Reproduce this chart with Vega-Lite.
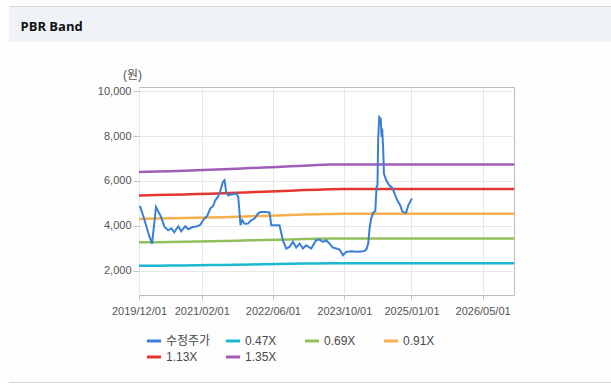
{
  "$schema": "https://vega.github.io/schema/vega-lite/v6.json",
  "background": "#fdfdfd",
  "padding": {"left": 9, "top": 6, "right": 0, "bottom": 0},
  "config": {
    "font": "Liberation Sans, Noto Sans CJK KR, sans-serif",
    "view": {"stroke": null},
    "concat": {"spacing": 0}
  },
  "datasets": {
    "price": [
      {"d":"2019-12-02","s":"수정주가","v":4850},
      {"d":"2019-12-10","s":"수정주가","v":4845},
      {"d":"2020-01-06","s":"수정주가","v":4300},
      {"d":"2020-02-02","s":"수정주가","v":3700},
      {"d":"2020-02-28","s":"수정주가","v":3218},
      {"d":"2020-03-26","s":"수정주가","v":4845},
      {"d":"2020-04-10","s":"수정주가","v":4650},
      {"d":"2020-04-24","s":"수정주가","v":4476},
      {"d":"2020-05-08","s":"수정주가","v":4250},
      {"d":"2020-05-23","s":"수정주가","v":3956},
      {"d":"2020-06-17","s":"수정주가","v":3810},
      {"d":"2020-07-08","s":"수정주가","v":3898},
      {"d":"2020-07-28","s":"수정주가","v":3720},
      {"d":"2020-08-25","s":"수정주가","v":3987},
      {"d":"2020-09-14","s":"수정주가","v":3765},
      {"d":"2020-10-11","s":"수정주가","v":3987},
      {"d":"2020-11-01","s":"수정주가","v":3854},
      {"d":"2020-11-28","s":"수정주가","v":3943},
      {"d":"2021-01-01","s":"수정주가","v":3987},
      {"d":"2021-01-22","s":"수정주가","v":4050},
      {"d":"2021-02-13","s":"수정주가","v":4285},
      {"d":"2021-03-10","s":"수정주가","v":4450},
      {"d":"2021-03-31","s":"수정주가","v":4774},
      {"d":"2021-04-20","s":"수정주가","v":4900},
      {"d":"2021-05-04","s":"수정주가","v":5143},
      {"d":"2021-05-17","s":"수정주가","v":5250},
      {"d":"2021-06-02","s":"수정주가","v":5440},
      {"d":"2021-06-25","s":"수정주가","v":5955},
      {"d":"2021-07-06","s":"수정주가","v":6031},
      {"d":"2021-07-18","s":"수정주가","v":5500},
      {"d":"2021-07-31","s":"수정주가","v":5365},
      {"d":"2021-08-21","s":"수정주가","v":5400},
      {"d":"2021-09-10","s":"수정주가","v":5420},
      {"d":"2021-09-24","s":"수정주가","v":5440},
      {"d":"2021-10-08","s":"수정주가","v":5290},
      {"d":"2021-10-23","s":"수정주가","v":4031},
      {"d":"2021-11-04","s":"수정주가","v":4254},
      {"d":"2021-11-20","s":"수정주가","v":4100},
      {"d":"2021-12-13","s":"수정주가","v":4106},
      {"d":"2022-01-04","s":"수정주가","v":4254},
      {"d":"2022-01-27","s":"수정주가","v":4329},
      {"d":"2022-02-14","s":"수정주가","v":4500},
      {"d":"2022-02-28","s":"수정주가","v":4600},
      {"d":"2022-03-14","s":"수정주가","v":4623},
      {"d":"2022-04-10","s":"수정주가","v":4623},
      {"d":"2022-05-09","s":"수정주가","v":4600},
      {"d":"2022-05-21","s":"수정주가","v":4031},
      {"d":"2022-06-17","s":"수정주가","v":4031},
      {"d":"2022-07-16","s":"수정주가","v":4031},
      {"d":"2022-08-08","s":"수정주가","v":3365},
      {"d":"2022-08-31","s":"수정주가","v":2996},
      {"d":"2022-09-22","s":"수정주가","v":3067},
      {"d":"2022-10-16","s":"수정주가","v":3290},
      {"d":"2022-11-07","s":"수정주가","v":3040},
      {"d":"2022-11-30","s":"수정주가","v":3218},
      {"d":"2022-12-23","s":"수정주가","v":2996},
      {"d":"2023-01-14","s":"수정주가","v":3143},
      {"d":"2023-02-17","s":"수정주가","v":2996},
      {"d":"2023-03-23","s":"수정주가","v":3365},
      {"d":"2023-04-15","s":"수정주가","v":3395},
      {"d":"2023-05-08","s":"수정주가","v":3290},
      {"d":"2023-05-31","s":"수정주가","v":3365},
      {"d":"2023-06-22","s":"수정주가","v":3218},
      {"d":"2023-07-15","s":"수정주가","v":3040},
      {"d":"2023-08-07","s":"수정주가","v":2996},
      {"d":"2023-08-30","s":"수정주가","v":2950},
      {"d":"2023-09-21","s":"수정주가","v":2698},
      {"d":"2023-10-14","s":"수정주가","v":2850},
      {"d":"2023-11-17","s":"수정주가","v":2880},
      {"d":"2023-12-21","s":"수정주가","v":2850},
      {"d":"2024-01-24","s":"수정주가","v":2860},
      {"d":"2024-02-20","s":"수정주가","v":2900},
      {"d":"2024-03-02","s":"수정주가","v":3000},
      {"d":"2024-03-12","s":"수정주가","v":3218},
      {"d":"2024-03-21","s":"수정주가","v":3885},
      {"d":"2024-04-01","s":"수정주가","v":4329},
      {"d":"2024-04-15","s":"수정주가","v":4596},
      {"d":"2024-04-29","s":"수정주가","v":4654},
      {"d":"2024-05-08","s":"수정주가","v":5734},
      {"d":"2024-05-14","s":"수정주가","v":5809},
      {"d":"2024-05-19","s":"수정주가","v":7885},
      {"d":"2024-05-26","s":"수정주가","v":8845},
      {"d":"2024-06-05","s":"수정주가","v":8773},
      {"d":"2024-06-11","s":"수정주가","v":7956},
      {"d":"2024-06-15","s":"수정주가","v":8329},
      {"d":"2024-06-22","s":"수정주가","v":7440},
      {"d":"2024-06-27","s":"수정주가","v":6329},
      {"d":"2024-07-13","s":"수정주가","v":6031},
      {"d":"2024-08-02","s":"수정주가","v":5809},
      {"d":"2024-08-23","s":"수정주가","v":5690},
      {"d":"2024-09-05","s":"수정주가","v":5485},
      {"d":"2024-09-26","s":"수정주가","v":5143},
      {"d":"2024-10-16","s":"수정주가","v":4921},
      {"d":"2024-10-30","s":"수정주가","v":4654},
      {"d":"2024-11-12","s":"수정주가","v":4596},
      {"d":"2024-11-26","s":"수정주가","v":4596},
      {"d":"2024-12-10","s":"수정주가","v":4921},
      {"d":"2025-01-04","s":"수정주가","v":5218}
    ],
    "band": [
      {"d":"2019-12-01","s":"0.47X","v":2228},{"d":"2019-12-01","s":"0.69X","v":3271},{"d":"2019-12-01","s":"0.91X","v":4313},{"d":"2019-12-01","s":"1.13X","v":5356},{"d":"2019-12-01","s":"1.35X","v":6399},
      {"d":"2020-03-31","s":"0.47X","v":2235},{"d":"2020-03-31","s":"0.69X","v":3281},{"d":"2020-03-31","s":"0.91X","v":4327},{"d":"2020-03-31","s":"1.13X","v":5373},{"d":"2020-03-31","s":"1.35X","v":6419},
      {"d":"2020-06-30","s":"0.47X","v":2241},{"d":"2020-06-30","s":"0.69X","v":3290},{"d":"2020-06-30","s":"0.91X","v":4339},{"d":"2020-06-30","s":"1.13X","v":5388},{"d":"2020-06-30","s":"1.35X","v":6437},
      {"d":"2020-09-30","s":"0.47X","v":2247},{"d":"2020-09-30","s":"0.69X","v":3298},{"d":"2020-09-30","s":"0.91X","v":4350},{"d":"2020-09-30","s":"1.13X","v":5401},{"d":"2020-09-30","s":"1.35X","v":6453},
      {"d":"2020-12-31","s":"0.47X","v":2254},{"d":"2020-12-31","s":"0.69X","v":3309},{"d":"2020-12-31","s":"0.91X","v":4363},{"d":"2020-12-31","s":"1.13X","v":5418},{"d":"2020-12-31","s":"1.35X","v":6473},
      {"d":"2021-03-31","s":"0.47X","v":2262},{"d":"2021-03-31","s":"0.69X","v":3320},{"d":"2021-03-31","s":"0.91X","v":4379},{"d":"2021-03-31","s":"1.13X","v":5438},{"d":"2021-03-31","s":"1.35X","v":6496},
      {"d":"2021-06-30","s":"0.47X","v":2269},{"d":"2021-06-30","s":"0.69X","v":3331},{"d":"2021-06-30","s":"0.91X","v":4393},{"d":"2021-06-30","s":"1.13X","v":5456},{"d":"2021-06-30","s":"1.35X","v":6518},
      {"d":"2021-09-30","s":"0.47X","v":2279},{"d":"2021-09-30","s":"0.69X","v":3345},{"d":"2021-09-30","s":"0.91X","v":4412},{"d":"2021-09-30","s":"1.13X","v":5478},{"d":"2021-09-30","s":"1.35X","v":6545},
      {"d":"2021-12-31","s":"0.47X","v":2289},{"d":"2021-12-31","s":"0.69X","v":3360},{"d":"2021-12-31","s":"0.91X","v":4432},{"d":"2021-12-31","s":"1.13X","v":5503},{"d":"2021-12-31","s":"1.35X","v":6575},
      {"d":"2022-03-31","s":"0.47X","v":2297},{"d":"2022-03-31","s":"0.69X","v":3373},{"d":"2022-03-31","s":"0.91X","v":4448},{"d":"2022-03-31","s":"1.13X","v":5523},{"d":"2022-03-31","s":"1.35X","v":6599},
      {"d":"2022-06-30","s":"0.47X","v":2305},{"d":"2022-06-30","s":"0.69X","v":3384},{"d":"2022-06-30","s":"0.91X","v":4464},{"d":"2022-06-30","s":"1.13X","v":5543},{"d":"2022-06-30","s":"1.35X","v":6622},
      {"d":"2022-09-30","s":"0.47X","v":2316},{"d":"2022-09-30","s":"0.69X","v":3400},{"d":"2022-09-30","s":"0.91X","v":4484},{"d":"2022-09-30","s":"1.13X","v":5569},{"d":"2022-09-30","s":"1.35X","v":6653},
      {"d":"2022-12-31","s":"0.47X","v":2327},{"d":"2022-12-31","s":"0.69X","v":3416},{"d":"2022-12-31","s":"0.91X","v":4505},{"d":"2022-12-31","s":"1.13X","v":5594},{"d":"2022-12-31","s":"1.35X","v":6683},
      {"d":"2023-03-31","s":"0.47X","v":2335},{"d":"2023-03-31","s":"0.69X","v":3428},{"d":"2023-03-31","s":"0.91X","v":4521},{"d":"2023-03-31","s":"1.13X","v":5614},{"d":"2023-03-31","s":"1.35X","v":6707},
      {"d":"2023-06-30","s":"0.47X","v":2343},{"d":"2023-06-30","s":"0.69X","v":3440},{"d":"2023-06-30","s":"0.91X","v":4536},{"d":"2023-06-30","s":"1.13X","v":5633},{"d":"2023-06-30","s":"1.35X","v":6730},
      {"d":"2023-09-30","s":"0.47X","v":2345},{"d":"2023-09-30","s":"0.69X","v":3443},{"d":"2023-09-30","s":"0.91X","v":4541},{"d":"2023-09-30","s":"1.13X","v":5639},{"d":"2023-09-30","s":"1.35X","v":6737},
      {"d":"2026-12-01","s":"0.47X","v":2345},{"d":"2026-12-01","s":"0.69X","v":3443},{"d":"2026-12-01","s":"0.91X","v":4541},{"d":"2026-12-01","s":"1.13X","v":5639},{"d":"2026-12-01","s":"1.35X","v":6737}
    ]
  },
  "vconcat": [
    {
      "width": 602, "height": 1,
      "view": {"fill": "#d8d8d8", "stroke": null},
      "data": {"values": []},
      "mark": "point",
      "encoding": {}
    },
    {
      "spacing": 25,
      "vconcat": [
        {
          "width": 602, "height": 35,
          "view": {"fill": "#eff3f8", "stroke": null},
          "title": {"text": "PBR Band", "anchor": "start", "dx": 11.5, "offset": -32.5, "baseline": "middle", "fontSize": 13, "fontWeight": "bold", "color": "#111111", "font": "Open Sans"},
          "data": {"values": []},
          "mark": "point",
          "encoding": {}
        },
        {
          "spacing": 65,
          "vconcat": [
            {
              "spacing": 0,
              "hconcat": [
                {
                  "width": 87, "height": 208,
                  "data": {"values": []},
                  "mark": "point",
                  "encoding": {}
                },
                {
                  "width": 375, "height": 208,
                  "view": {"fill": "#ffffff", "stroke": "#bcbcbc"},
                  "encoding": {
                    "x": {
                      "field": "d", "type": "temporal",
                      "scale": {"type": "utc", "domain": [{"year": 2019, "month": 12, "date": 1, "utc": true}, {"year": 2026, "month": 12, "date": 1, "utc": true}]},
                      "axis": {
                        "values": [
                          {"year": 2019, "month": 12, "date": 1, "utc": true},
                          {"year": 2021, "month": 2, "date": 1, "utc": true},
                          {"year": 2022, "month": 6, "date": 1, "utc": true},
                          {"year": 2023, "month": 10, "date": 1, "utc": true},
                          {"year": 2025, "month": 1, "date": 1, "utc": true},
                          {"year": 2026, "month": 5, "date": 1, "utc": true}
                        ],
                        "format": "%Y/%m/%d", "title": null, "domain": false,
                        "tickColor": "#c4c4c4", "tickSize": 5, "labelPadding": 5,
                        "labelFontSize": 11, "labelColor": "#555555",
                        "gridColor": "#e8e8e8", "labelOverlap": false, "labelFlush": false
                      }
                    },
                    "y": {
                      "field": "v", "type": "quantitative",
                      "scale": {"domain": [930, 10180], "nice": false, "zero": false},
                      "axis": {
                        "values": [2000, 4000, 6000, 8000, 10000], "format": ",d",
                        "title": "(원)", "titleAngle": 0, "titleX": -7, "titleY": -13,
                        "titleAlign": "center", "titleBaseline": "middle",
                        "titleFontSize": 12, "titleFontWeight": "normal", "titleColor": "#555555",
                        "domain": false, "tickColor": "#c4c4c4", "tickSize": 6, "labelPadding": 2,
                        "labelFontSize": 11, "labelColor": "#555555", "gridColor": "#e8e8e8"
                      }
                    },
                    "color": {
                      "field": "s", "type": "nominal",
                      "scale": {
                        "domain": ["수정주가", "0.47X", "0.69X", "0.91X", "1.13X", "1.35X"],
                        "range": ["#3a7fd5", "#1cb8d0", "#92bf5c", "#f6b14c", "#e3372d", "#a25db8"]
                      },
                      "legend": {
                        "orient": "none", "legendX": 136, "legendY": 326,
                        "direction": "horizontal", "columns": 4, "gridAlign": "all",
                        "columnPadding": 8, "rowPadding": 1, "padding": 0,
                        "symbolType": "stroke", "symbolSize": 200, "symbolStrokeWidth": 3,
                        "labelFontSize": 12, "labelColor": "#4a4a4a", "labelOffset": 3,
                        "title": null
                      }
                    }
                  },
                  "layer": [
                    {"data": {"name": "band"}, "mark": {"type": "line", "strokeWidth": 2.5}},
                    {"data": {"name": "price"}, "mark": {"type": "line", "strokeWidth": 2}}
                  ]
                }
              ]
            },
            {
              "width": 602, "height": 1,
              "view": {"fill": "#d8d8d8", "stroke": null},
              "data": {"values": []},
              "mark": "point",
              "encoding": {}
            }
          ]
        }
      ]
    }
  ]
}
